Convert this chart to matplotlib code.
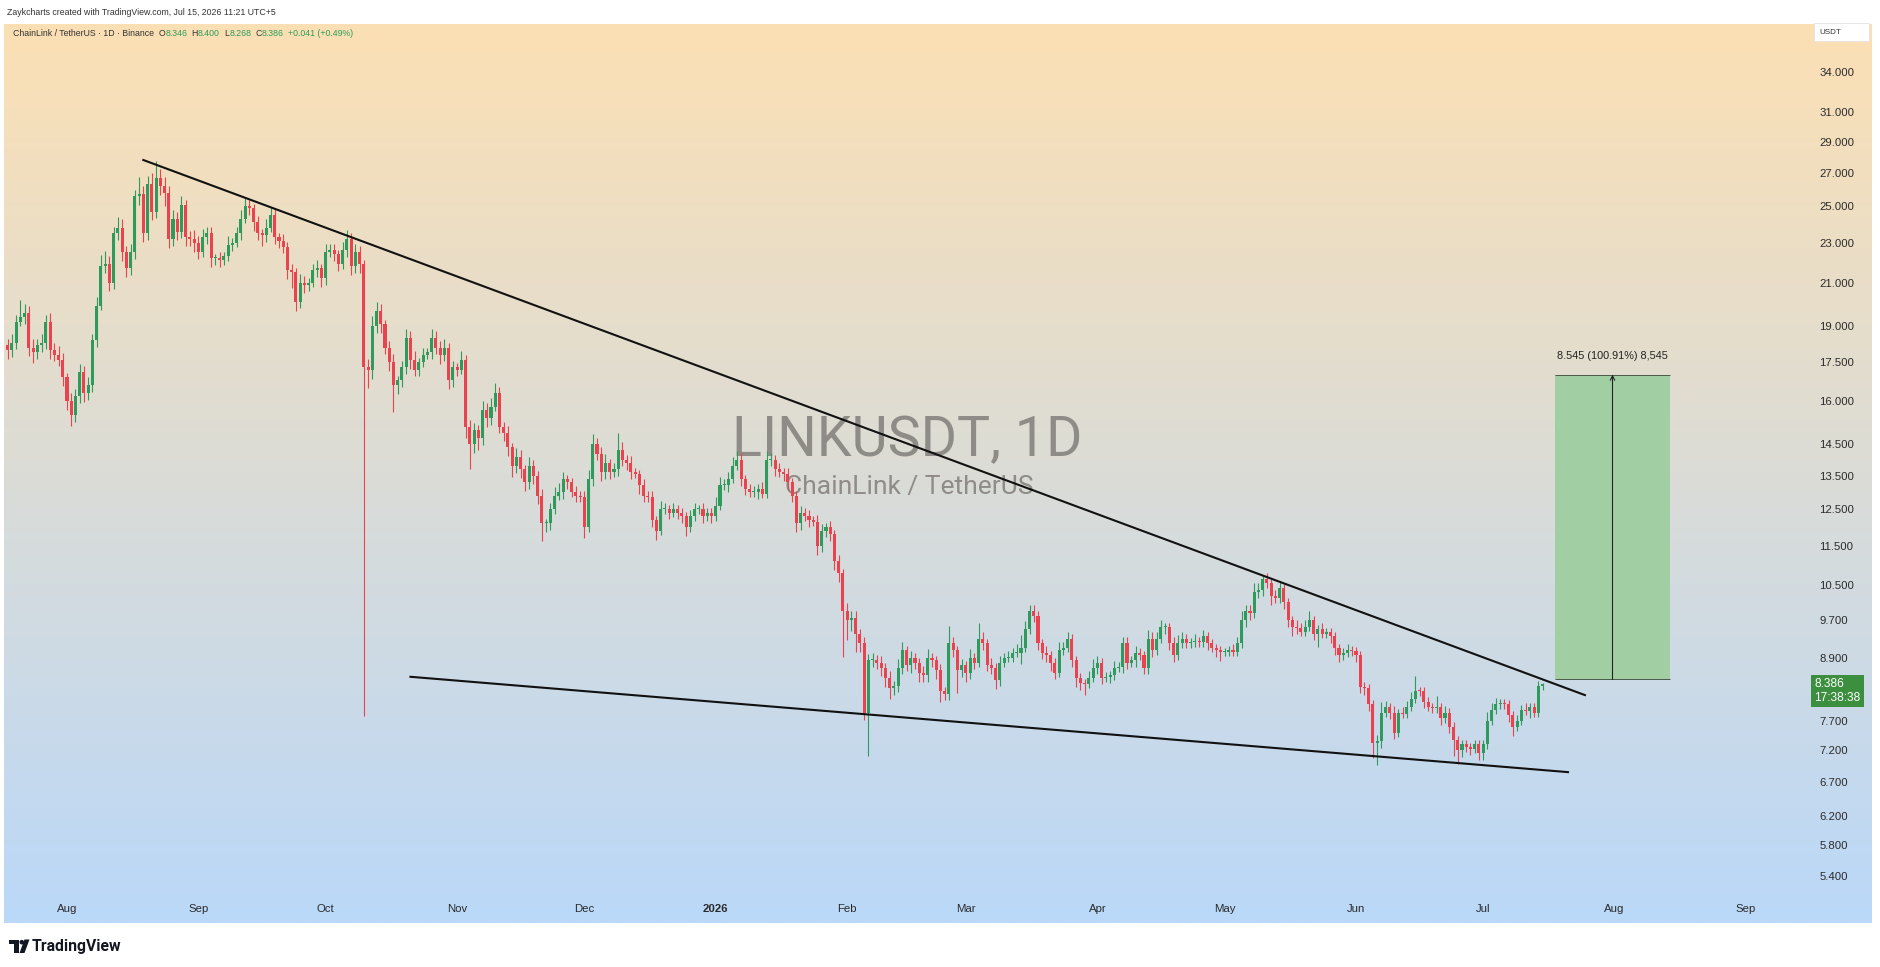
import datetime as dt
import numpy as np
import matplotlib
matplotlib.use("Agg")
import matplotlib.pyplot as plt
import matplotlib.dates as mdates
from matplotlib import ticker, transforms
from matplotlib.patches import Rectangle, Circle, Polygon

plt.rcParams['font.family'] = ['Liberation Sans', 'DejaVu Sans']

# ---------------- data ----------------
start_day = dt.datetime(2025, 7, 18)
first_open = 18.2

closes = [
    18.0, 18.3, 19.2, 19.4, 19.6, 18.1, 17.9, 18.2, 18.3, 19.2,
    18.0, 17.8, 17.6, 16.9, 16.0, 15.5, 16.2, 17.1, 16.3, 16.6,
    18.4, 19.9, 21.8, 21.9, 21.0, 23.5, 23.8, 22.5, 21.7, 22.5,
    25.6, 25.7, 23.5, 26.3, 24.7, 26.7, 26.2, 25.8, 23.2, 24.3,
    23.6, 25.1, 23.3, 23.2, 23.0, 22.5, 23.3, 23.5, 22.2, 22.2,
    22.1, 22.3, 22.9, 23.0, 23.5, 24.3, 25.0, 24.9, 24.1, 23.5,
    23.4, 23.8, 24.5, 23.3, 23.1, 22.8, 21.6, 21.5, 20.1, 21.0,
    20.9, 21.0, 21.6, 21.7, 21.2, 22.5, 22.6, 22.4, 21.9, 22.6,
    23.2, 21.8, 22.5, 21.9, 17.3, 17.2, 19.0, 19.7, 19.1, 18.1,
    17.5, 16.6, 16.8, 17.3, 18.5, 17.6, 17.2, 17.5, 17.8, 17.9,
    18.5, 18.1, 17.8, 18.1, 16.8, 17.3, 17.2, 17.6, 15.1, 14.5,
    15.0, 14.7, 15.7, 15.4, 15.8, 16.3, 15.1, 14.9, 14.4, 13.8,
    14.1, 13.7, 13.3, 13.8, 13.5, 12.9, 12.1, 12.1, 12.5, 12.9,
    13.0, 13.4, 13.3, 13.0, 12.9, 12.85, 12.0, 13.4, 14.5, 14.2,
    13.6, 13.9, 13.6, 13.7, 14.3, 14.0, 13.9, 13.6, 13.55, 13.2,
    12.9, 12.85, 12.2, 11.9, 12.5, 12.5, 12.4, 12.5, 12.4, 12.3,
    12.0, 12.3, 12.5, 12.5, 12.3, 12.4, 12.3, 12.6, 13.2, 13.2,
    13.4, 13.8, 14.0, 13.4, 13.1, 13.0, 13.0, 13.1, 12.95, 14.0,
    14.0, 13.7, 13.6, 13.55, 13.3, 12.9, 12.1, 12.4, 12.3, 12.2,
    12.15, 11.5, 11.9, 12.0, 11.8, 11.1, 10.8, 9.9, 9.7, 9.75,
    9.4, 9.2, 7.84, 8.85, 8.86, 8.8, 8.7, 8.5, 8.3, 8.35,
    8.7, 9.05, 8.76, 8.9, 8.8, 8.6, 8.55, 8.9, 8.85, 8.65,
    8.25, 8.2, 9.2, 9.05, 8.65, 8.75, 8.6, 8.9, 8.8, 9.3,
    9.2, 8.76, 8.7, 8.46, 8.8, 8.9, 8.9, 9.0, 9.0, 9.1,
    9.5, 9.9, 9.8, 9.2, 9.0, 8.95, 8.8, 8.6, 9.05, 9.1,
    9.3, 8.85, 8.5, 8.4, 8.38, 8.5, 8.7, 8.8, 8.5, 8.52,
    8.55, 8.7, 8.72, 9.2, 8.8, 8.85, 9.0, 8.95, 8.7, 9.3,
    9.05, 9.3, 9.55, 9.55, 9.2, 8.95, 9.2, 9.3, 9.2, 9.22,
    9.25, 9.22, 9.35, 9.2, 9.1, 9.05, 9.02, 9.02, 9.05, 9.02,
    9.2, 9.7, 9.9, 9.85, 10.35, 10.4, 10.65, 10.55, 10.25, 10.2,
    10.45, 10.1, 9.7, 9.55, 9.53, 9.45, 9.55, 9.7, 9.4, 9.5,
    9.4, 9.43, 9.35, 9.1, 8.95, 9.0, 9.05, 9.03, 8.95, 8.33,
    8.3, 8.0, 7.33, 7.35, 7.85, 7.95, 7.85, 7.5, 7.84, 7.83,
    7.95, 8.1, 8.25, 8.24, 8.05, 7.95, 7.93, 7.95, 7.75, 7.85,
    7.6, 7.37, 7.2, 7.3, 7.25, 7.23, 7.3, 7.15, 7.3, 7.7,
    7.9, 8.0, 8.02, 8.0, 7.8, 7.6, 7.7, 7.9, 7.88, 7.95,
    7.85, 8.346, 8.386,
]

# upper / lower wick length in % of the body edge
up_pct = [
    1.5, 2, 1.5, 4, 2, 1.5, 2, 1.5, 2, 1.5,
    2, 1.5, 2, 1.5, 1, 2, 1.5, 2, 1.5, 2,
    1.5, 2, 2.5, 3, 2, 1.5, 2.5, 2, 1.5, 2,
    1.5, 4, 2, 2, 2.5, 4, 2, 2, 1.5, 2,
    1.5, 2, 1, 1.5, 2, 1.5, 2, 1.5, 1.5, 1,
    1.5, 1, 2, 1, 1.5, 2, 2, 1.5, 1, 1.5,
    1, 2, 2, 1.5, 1, 1.5, 1, 1.5, 1, 2,
    1.5, 1, 1.5, 2, 1, 2, 1.5, 1.5, 1, 2,
    2, 1.5, 2, 1.5, 1, 2, 2.5, 2, 1.5, 1,
    1.5, 2, 1, 1.5, 2, 1.5, 2, 1, 1.5, 1,
    2, 1.5, 1.5, 2, 1, 1.5, 1, 2, 1, 1.5,
    1.5, 1, 2, 1.5, 2, 2.5, 1.5, 1, 1.5, 1,
    2, 1.5, 1, 2, 1.5, 1, 1.5, 1, 1.5, 2,
    2, 1.5, 1, 1, 1.5, 1, 1.5, 2, 2.5, 1.5,
    1.5, 2, 1, 1.5, 4, 2, 1, 1.5, 1, 1,
    1.5, 1, 1.5, 1, 2, 1.5, 1, 1.5, 1, 1,
    1, 1.5, 1.5, 1, 1.5, 1, 1, 2, 2, 1.5,
    1.5, 2, 2, 1.5, 1, 1, 1.5, 1, 1.5, 2,
    1.5, 1, 1.5, 1, 1.5, 1, 1, 1.5, 1, 1.5,
    1, 1.5, 1.5, 1, 1.5, 1, 1.5, 1, 2, 1.5,
    1.5, 1, 1.5, 1.5, 1.5, 1, 1.5, 1, 1.5, 1,
    2, 2, 1, 1.5, 1, 1, 1.5, 2, 1, 1,
    1.5, 1, 4, 1.5, 1, 1.5, 1, 2, 1, 3.5,
    1.5, 1, 1.5, 1, 1.5, 1, 1.5, 1, 2, 3,
    2, 1.5, 1.5, 1, 1, 1.5, 1, 1, 2, 1.5,
    1.6, 1, 1, 1, 1, 1.5, 2, 1.5, 1, 1,
    1, 1.5, 1, 1.5, 1.5, 1, 1.5, 1, 1, 2,
    1.5, 1.5, 1.5, 1, 1, 1.5, 2, 1.5, 1, 1,
    1.5, 1, 1.5, 1, 1, 1, 1, 1, 1, 1.5,
    1.5, 2, 1.5, 1.5, 2, 1.5, 1, 1.5, 1, 1.5,
    1.5, 1, 1, 1, 1.5, 1, 1.5, 2, 1, 1,
    1.5, 1, 1, 1, 1, 1, 1.5, 1, 1, 1,
    1, 1, 1, 1.5, 2.5, 1.5, 1, 1.5, 1, 1.5,
    1.5, 1.5, 3.5, 1, 1, 1, 1, 2.5, 1, 1.5,
    1, 1, 1, 1, 1, 1, 1, 1, 1, 2,
    1.5, 1.5, 1, 1, 1, 1, 1.5, 1, 1.5, 1,
    1, 1, 0.167,
]
dn_pct = [
    2, 1.5, 1.5, 1, 1.5, 2, 2.5, 1.5, 1.5, 1.5,
    2, 1.5, 1.5, 2, 2, 2.5, 1.5, 1.5, 2, 1.5,
    1.5, 1.5, 1, 1.5, 2, 1.5, 1.5, 2, 2, 1.5,
    1.5, 2, 2, 1.5, 2, 1.5, 2, 3, 2, 1.5,
    2, 1.5, 2, 1.5, 2, 1.5, 1, 1.5, 2, 1.5,
    1.5, 1, 1, 1.5, 1, 1.5, 1, 1.5, 2, 1.5,
    2.5, 1.5, 1, 1.5, 1.5, 1.5, 2, 3.5, 2, 1.5,
    2, 1.5, 1, 1.5, 2, 1.5, 1, 1.5, 1.5, 1,
    1.5, 2, 1.5, 2, 55, 4, 2, 1.5, 2, 1.5,
    2, 6, 2, 1.5, 1.5, 2, 1.5, 1.5, 1, 1,
    1.5, 1.5, 2, 1.5, 2, 1.5, 1.5, 1, 2.5, 5.5,
    2, 2.5, 1.5, 2, 1.5, 1, 1.5, 2, 2, 2.5,
    1.5, 2, 2, 1.5, 2, 2, 4, 2, 1.5, 1,
    1, 1.5, 1.5, 1, 1.5, 1, 2.5, 1, 1.5, 1.5,
    2, 1.5, 1.5, 1, 1.5, 1.5, 1.5, 1.5, 1, 2,
    1.5, 1, 1.5, 2, 1, 1, 1.5, 1, 1.5, 1.5,
    2, 1, 1, 1, 1.5, 1, 1.5, 1, 1, 1,
    1.5, 1, 1, 1.5, 1.5, 1, 1, 1.5, 1, 1,
    1.5, 1.5, 1, 1.5, 1.5, 1.5, 2, 1.5, 1, 1.5,
    1, 2, 1.5, 1.5, 1.5, 2, 2, 10, 4.5, 2.5,
    4, 2, 1.5, 9.4, 1.5, 1.5, 2, 2, 2.5, 1.5,
    1.5, 1.5, 1.5, 2, 1.5, 2, 1.5, 1.5, 1.5, 2,
    2.5, 1.5, 1.5, 1.5, 5, 1.5, 2, 1.5, 1.5, 1,
    1.5, 1.5, 1.5, 2, 1.5, 1, 1, 1, 1, 2.5,
    1, 1, 1.5, 1.5, 1.5, 1.5, 2, 1.5, 1, 1,
    1, 1.5, 2, 1.5, 2.5, 1, 1, 1.5, 1.5, 1,
    1.5, 1, 1, 1.5, 1.5, 1, 1.5, 1, 1.5, 1.5,
    1.5, 1, 1, 1.5, 1.5, 1.5, 1, 1, 1, 1,
    1, 1, 1, 1.5, 1, 1.5, 2, 1, 1, 1,
    1, 1, 1.5, 1.5, 1, 1.5, 1.5, 1, 2, 1,
    1, 1.5, 1.5, 2, 1.5, 1, 1, 1, 1.5, 3,
    1, 1, 1.5, 1.5, 1.5, 1, 1, 1, 1.5, 1.5,
    1.5, 1.5, 3.4, 5, 1.5, 1, 1.5, 1.5, 1, 1,
    1, 1, 1, 1, 1.5, 1, 1, 1, 1.5, 1,
    1.5, 3.5, 3, 1.5, 1, 1.5, 1, 1.5, 1.5, 1,
    1, 1, 1, 1, 1.5, 2, 1, 1, 1, 1.5,
    1, 1, 0.9346,
]

price_ticks = [34, 31, 29, 27, 25, 23, 21, 19, 17.5, 16, 14.5, 13.5, 12.5,
               11.5, 10.5, 9.7, 8.9, 7.7, 7.2, 6.7, 6.2, 5.8, 5.4]
month_starts = [dt.datetime(2025, m, 1) for m in range(8, 13)] + \
               [dt.datetime(2026, m, 1) for m in range(1, 10)]
month_labels = ['Aug', 'Sep', 'Oct', 'Nov', 'Dec', '2026', 'Feb', 'Mar',
                'Apr', 'May', 'Jun', 'Jul', 'Aug', 'Sep']

upper_trend_dates = [dt.datetime(2025, 8, 19), dt.datetime(2026, 7, 25)]
upper_trend_prices = [27.8, 8.17]
lower_trend_dates = [dt.datetime(2025, 10, 21), dt.datetime(2026, 7, 21)]
lower_trend_prices = [8.52, 6.85]

target_dates = [dt.datetime(2026, 7, 18), dt.datetime(2026, 8, 14)]
target_prices = [8.468, 17.013]
target_label = '8.545 (100.91%) 8,545'

legend_parts = [('ChainLink / TetherUS · 1D · Binance', 'dark'),
                ('O', 'dark'), ('8.346', 'green'), ('H', 'dark'), ('8.400', 'green'),
                ('L', 'dark'), ('8.268', 'green'), ('C', 'dark'), ('8.386', 'green'),
                ('+0.041 (+0.49%)', 'green')]
countdown = '17:38:38'

# ---------------- derived candles ----------------
closes = np.array(closes)
opens = np.r_[first_open, closes[:-1]]
n = len(closes)
x = mdates.date2num(start_day) + np.arange(n)
top = np.maximum(opens, closes)
bot = np.minimum(opens, closes)
highs = top * (1 + np.array(up_pct[:n]) / 100)
lows = bot * (1 - np.array(dn_pct[:n]) / 100)
is_up = closes >= opens

UP = '#2f9a5c'
DOWN = '#e8434f'
colors = np.where(is_up, UP, DOWN)

W, H = 1880, 967
fig = plt.figure(figsize=(W / 100, H / 100), dpi=100)
fig.patch.set_facecolor('white')

rect = [4 / W, 44 / H, 1868 / W, 899 / H]

# background gradient
bg = fig.add_axes(rect, zorder=0)
c_top = np.array([252, 224, 180]) / 255
c_bot = np.array([186, 216, 249]) / 255
t = np.linspace(0, 1, 300)[:, None]
img = (c_top * (1 - t) + c_bot * t)[:, None, :]
bg.imshow(img, aspect='auto', extent=(0, 1, 0, 1), interpolation='bilinear')
bg.set_axis_off()

ax = fig.add_axes(rect, zorder=1)
ax.set_facecolor('none')
ax.set_yscale('log')
aug1 = mdates.date2num(dt.datetime(2025, 8, 1))
ax.set_xlim(aug1 - 14.86, aug1 + 425.7)
ax.set_ylim(4.85, 37.95)
for s in ax.spines.values():
    s.set_visible(False)

# watermark
ax.text(0.4834, 0.537, 'LINKUSDT, 1D', transform=ax.transAxes, ha='center', va='center',
        fontsize=40, color='#8f8c88', family=['Roboto', 'DejaVu Sans'], zorder=1)
ax.text(0.4845, 0.485, 'ChainLink / TetherUS', transform=ax.transAxes, ha='center',
        va='center', fontsize=19, color='#8f8c88', family=['Roboto', 'DejaVu Sans'], zorder=1)

# candles
ax.vlines(x, lows, highs, colors=colors, lw=0.8, zorder=3)
body_top = np.maximum(top, bot * 1.0025)
ax.bar(x, body_top - bot, bottom=bot, width=0.72, color=colors, linewidth=0, zorder=4)

# trend lines
ax.plot(mdates.date2num(upper_trend_dates), upper_trend_prices, color='#111111', lw=1.5, zorder=5)
ax.plot(mdates.date2num(lower_trend_dates), lower_trend_prices, color='#111111', lw=1.5, zorder=5)

# target measurement box
tx0, tx1 = mdates.date2num(target_dates)
ax.add_patch(Rectangle((tx0, target_prices[0]), tx1 - tx0, target_prices[1] - target_prices[0],
                       facecolor='#a2cea4', edgecolor='none', zorder=2))
ax.hlines(target_prices, tx0, tx1, color='#4a5a4a', lw=0.7, zorder=3)
tmid = (tx0 + tx1) / 2
ax.annotate('', xy=(tmid, target_prices[1]), xytext=(tmid, target_prices[0]),
            arrowprops=dict(arrowstyle='->', lw=0.8, color='#222222', shrinkA=0, shrinkB=0,
                            mutation_scale=8), zorder=4)
ax.annotate(target_label, xy=(tmid, target_prices[1]), xytext=(0, 13.5),
            textcoords='offset points', ha='center', va='center', fontsize=7.8, color='#222222')

# axes ticks
ax.yaxis.tick_right()
ax.set_yticks(price_ticks)
ax.set_yticklabels([f'{p:.3f}' for p in price_ticks])
ax.yaxis.set_minor_locator(ticker.NullLocator())
ax.yaxis.set_minor_formatter(ticker.NullFormatter())
ax.tick_params(axis='y', which='both', length=0, pad=-38, labelsize=8.2, labelcolor='#2b2b2b')
ax.set_xticks(mdates.date2num(month_starts))
ax.set_xticklabels(month_labels)
ax.tick_params(axis='x', length=0, pad=-14, labelsize=8.2, labelcolor='#2b2b2b')
for lab in ax.get_xticklabels():
    if lab.get_text() == '2026':
        lab.set_fontweight('bold')

# last price tag
tr = transforms.blended_transform_factory(ax.transAxes, ax.transData)
ax.annotate(f'{closes[-1]:.3f}\n{countdown}', xy=(0.9692, closes[-1]), xycoords=tr,
            xytext=(0, 4), textcoords='offset points', ha='left', va='top', fontsize=8.6,
            color='white', linespacing=1.2, zorder=6, annotation_clip=False,
            bbox=dict(boxstyle='square,pad=0.25', fc='#3b8f3f', ec='none'))

# ---------------- overlay: header, legend, logo ----------------
ov = fig.add_axes([0, 0, 1, 1], zorder=3)
ov.set_xlim(0, W)
ov.set_ylim(H, 0)
ov.set_axis_off()
ov.patch.set_alpha(0)

ov.text(7, 12.5, 'Zaykcharts created with TradingView.com, Jul 15, 2026 11:21 UTC+5',
        va='center', ha='left', fontsize=6.3, color='#333333')

prev = None
for txt, kind in legend_parts:
    col = '#2e9c5c' if kind == 'green' else '#333333'
    if prev is None:
        prev = ov.text(13, 33, txt, va='center', ha='left', fontsize=6.3, color=col)
    else:
        gap = 0 if (prev.get_text() in 'OHLC') else 3.2
        prev = ov.annotate(txt, xy=(1, 0), xycoords=prev, xytext=(gap, 0),
                           textcoords='offset points', va='bottom', ha='left',
                           fontsize=6.3, color=col)

# currency box
ov.add_patch(Rectangle((1814, 23), 55, 18, facecolor='white', edgecolor='#e3e3e3', lw=0.6))
ov.text(1819, 32.5, 'USDT', va='center', ha='left', fontsize=5.8, color='#333333')

# TradingView logo
ov.add_patch(Rectangle((9, 939.5), 9.5, 4.5, color='#131722', lw=0))
ov.add_patch(Rectangle((14, 939.5), 4.5, 13.5, color='#131722', lw=0))
ov.add_patch(Circle((21.8, 942.2), 2.3, color='#131722', lw=0))
ov.add_patch(Polygon([(24.5, 939.5), (29.5, 939.5), (24.5, 953), (19.5, 953)],
                     closed=True, color='#131722', lw=0))
ov.text(32, 946.5, 'TradingView', va='center', ha='left', fontsize=11.3,
        fontweight='bold', color='#131722', family=['Roboto', 'DejaVu Sans'])

fig.savefig('out.png', dpi=100)
